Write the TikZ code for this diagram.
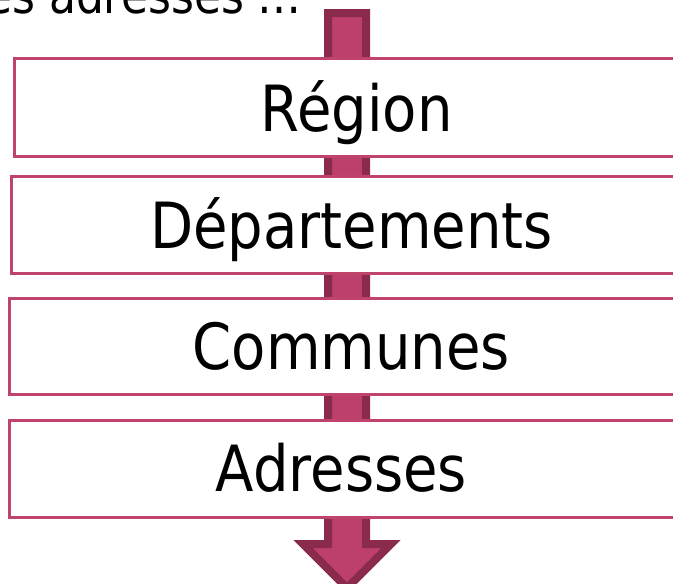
\documentclass[tikz,border=0pt]{standalone}
\usepackage{fontspec}
\setmainfont{DejaVu Sans}[FakeStretch=0.88]
\definecolor{arrowfill}{HTML}{BD3F6B}
\definecolor{arrowedge}{HTML}{8A2A4D}
\definecolor{boxedge}{HTML}{C0436C}
\begin{document}
\begin{tikzpicture}[x=1pt,y=-1pt,
  levelbox/.style={draw=boxedge, line width=3pt, fill=white},
  leveltext/.style={font=\fontsize{63.7}{70}\selectfont, inner sep=0pt, anchor=base}]
\useasboundingbox (0,0) rectangle (673,584);
\clip (0,0) rectangle (673,584);
% top text
\node[font=\fontsize{50}{56}\selectfont, inner sep=0pt, anchor=base west] (top) at (-43,13) {des adresses …};
% big arrow
\draw[fill=arrowfill, draw=arrowedge, line width=8pt, miter limit=10]
  (328,13) -- (366,13) -- (366,544) -- (391,544) -- (347,588) -- (303,544) -- (328,544) -- cycle;
% boxes
\draw[levelbox] (14,58) rectangle (700,156);
\draw[levelbox] (11,176) rectangle (700,273);
\draw[levelbox] (9,298) rectangle (700,394);
\draw[levelbox] (9,420) rectangle (700,517);
\node[leveltext] (region) at (356.5,131) {Région};
\node[leveltext] (dep) at (351.5,248) {Départements};
\node[leveltext] (com) at (351.5,369) {Communes};
\node[leveltext] (adr) at (341.5,491) {Adresses};
\end{tikzpicture}
\end{document}
